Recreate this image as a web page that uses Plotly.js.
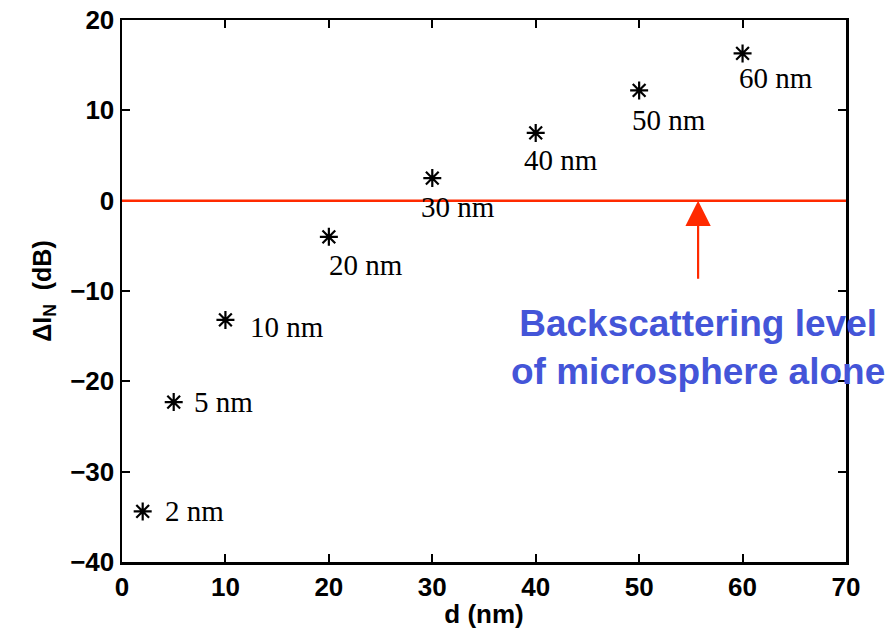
<!DOCTYPE html>
<html>
<head>
<meta charset="utf-8">
<script src="https://cdn.plot.ly/plotly-3.0.1.min.js"></script>
<style>html,body{margin:0;padding:0;background:#fff;}#chart{width:890px;height:629px;}</style>
</head>
<body>
<div id="chart"></div>
<script>
// Data
const diameters = [2, 5, 10, 20, 30, 40, 50, 60];          // d (nm)
const deltaIN   = [-34.4, -22.3, -13.2, -4.0, 2.5, 7.5, 12.2, 16.3]; // ΔI_N (dB)
const pointLabels = ["2 nm", "5 nm", "10 nm", "20 nm", "30 nm", "40 nm", "50 nm", "60 nm"];
const xTicks = [0, 10, 20, 30, 40, 50, 60, 70];
const yTicks = [-40, -30, -20, -10, 0, 10, 20];
const referenceLevel = 0;            // backscattering level of microsphere alone (dB)
const arrowX = 55.7;                 // arrow location (nm)
const noteText = "Backscattering level<br>of microsphere alone";

// label placement offsets (pixels), presentation only
const labelOffsets = [[20, 0], [18, 0], [23, -7], [-2, -28], [-13, -29], [-14, -27], [-9, -30], [-6, -25]];

const trace = {
  x: diameters, y: deltaIN, mode: 'markers', type: 'scatter',
  marker: {symbol: 'asterisk-open', size: 15, color: '#000', line: {color: '#000', width: 2.2}},
  hoverinfo: 'none', showlegend: false
};

const annotations = pointLabels.map((t, i) => ({
  x: diameters[i], y: deltaIN[i], xref: 'x', yref: 'y', text: t, showarrow: false,
  xanchor: 'left', yanchor: 'middle', xshift: labelOffsets[i][0], yshift: labelOffsets[i][1],
  font: {family: 'Liberation Serif, Times New Roman, serif', size: 29, color: '#000'}
}));

annotations.push({
  x: arrowX, y: referenceLevel, ax: arrowX, ay: -8.8, xref: 'x', yref: 'y', axref: 'x', ayref: 'y',
  text: '', showarrow: true, arrowhead: 2, arrowsize: 2.3, arrowwidth: 2.2, arrowcolor: '#ff2a00', standoff: 0
});
annotations.push({
  x: arrowX, y: -16.3, xref: 'x', yref: 'y', text: noteText, showarrow: false,
  xanchor: 'center', yanchor: 'middle', align: 'center',
  font: {family: 'Liberation Sans, Arial, sans-serif', size: 37, color: '#4455d8', weight: 'bold'}
});

const axisFont = {family: 'Liberation Sans, Arial, sans-serif', size: 26, color: '#000', weight: 'bold'};
const axisCommon = {
  showgrid: false, zeroline: false, showline: true, mirror: 'ticks', linecolor: '#000', linewidth: 2.5,
  ticks: 'inside', ticklen: 8, tickwidth: 2, tickcolor: '#000',
  tickfont: axisFont
};

const layout = {
  width: 890, height: 629,
  margin: {l: 122, r: 44, t: 20, b: 67},
  paper_bgcolor: '#fff', plot_bgcolor: '#fff',
  xaxis: Object.assign({}, axisCommon, {
    range: [0, 70], tickvals: xTicks, ticktext: xTicks.map(String),
    title: {text: 'd (nm)', font: axisFont, standoff: 6}
  }),
  yaxis: Object.assign({}, axisCommon, {
    range: [-40, 20], tickvals: yTicks,
    title: {text: 'ΔI<sub>N</sub>  (dB)', font: Object.assign({}, axisFont, {size: 25}), standoff: 12}
  }),
  shapes: [{
    type: 'line', xref: 'paper', x0: 0, x1: 1, yref: 'y', y0: referenceLevel, y1: referenceLevel,
    line: {color: '#ff2a00', width: 2.5}
  }],
  annotations: annotations
};

Plotly.newPlot('chart', [trace], layout, {displayModeBar: false, staticPlot: true});
</script>
</body>
</html>
